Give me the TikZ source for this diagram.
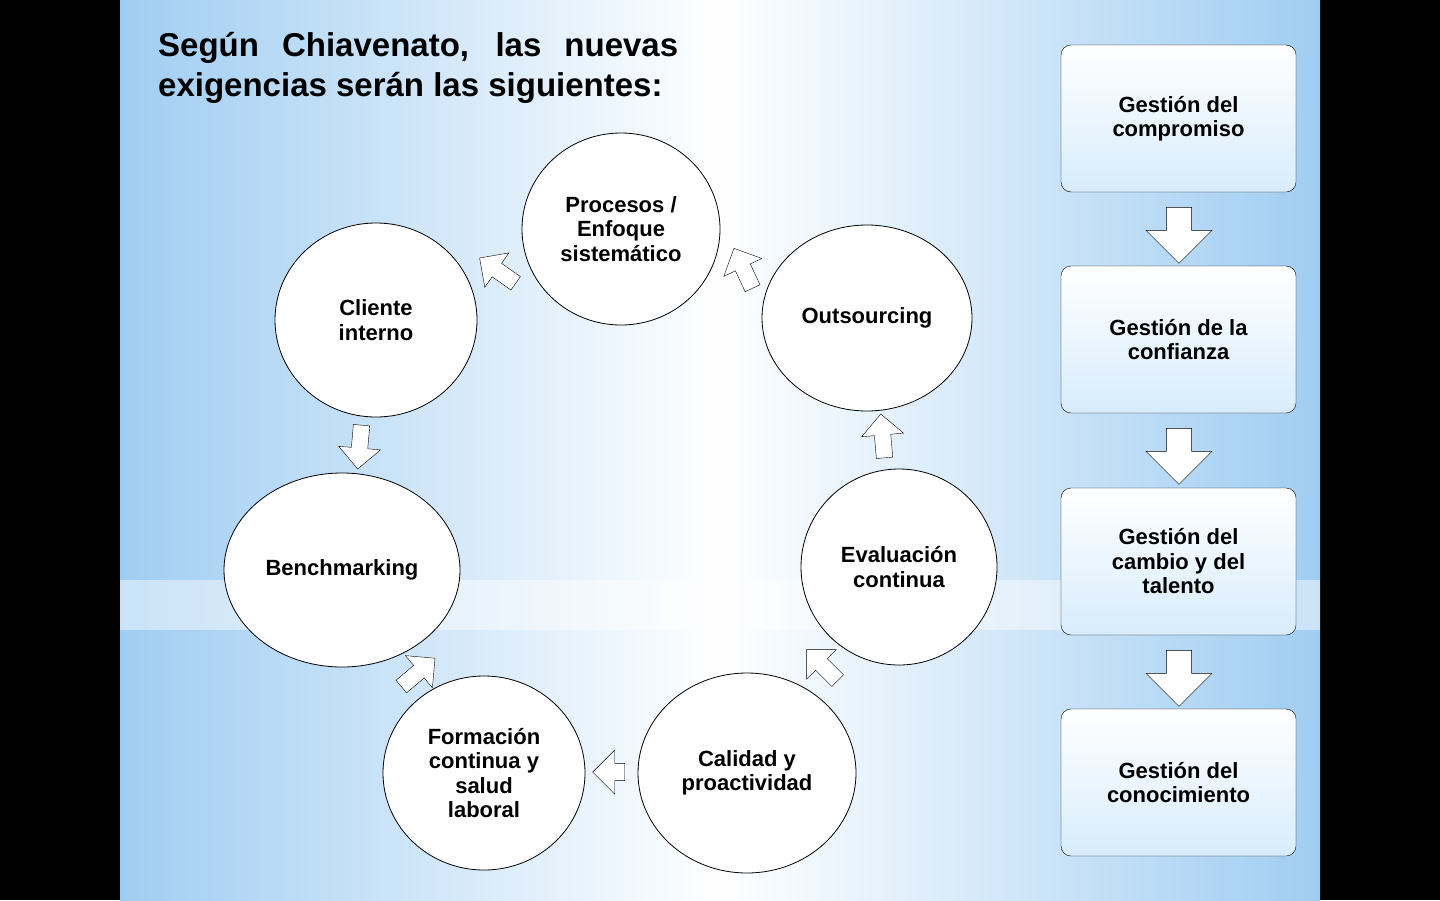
\documentclass[tikz,border=0pt]{standalone}
\usepackage{fontspec}
\setmainfont{Liberation Sans}
\usetikzlibrary{shapes.geometric,shapes.arrows}
\definecolor{bgblue}{RGB}{160,205,242}
\definecolor{boxblue}{RGB}{215,236,252}
\begin{document}
\begin{tikzpicture}[x=1pt,y=-1pt,
  circ/.style={ellipse,draw,thick,fill=white,align=center,font=\fontsize{22}{24.5}\selectfont\bfseries},
  barr/.style={single arrow,draw,fill=white,minimum height=44,minimum width=42,single arrow head extend=5,inner sep=3},
  dbarr/.style={single arrow,draw,fill=white,minimum height=56,minimum width=66,single arrow head extend=10,inner sep=6,shape border rotate=270},
  gbox/.style={draw,rounded corners=10,minimum width=235,minimum height=147,align=center,top color=white,bottom color=boxblue,font=\fontsize{22}{24.5}\selectfont\bfseries}]
\useasboundingbox (0,0) rectangle (1440,900);
\fill[black] (0,0) rectangle (1440,900);
\shade[left color=bgblue,right color=white] (120,0) rectangle (720,900);
\shade[left color=white,right color=bgblue] (720,0) rectangle (1320,900);
\fill[white,opacity=0.45] (120,580) rectangle (1320,630);
\node[anchor=north west,align=left,font=\fontsize{33}{40}\selectfont\bfseries,inner sep=0] (title) at (158,32) {\makebox[520pt][s]{Según Chiavenato, las nuevas}\\exigencias serán las siguientes:};
\node[circ,minimum width=198,minimum height=192] (p) at (621,229) {Procesos /\\Enfoque\\sistemático};
\node[circ,minimum width=202,minimum height=194] (c) at (376,320) {Cliente\\interno};
\node[circ,minimum width=210,minimum height=186] (o) at (867,318) {Outsourcing};
\node[circ,minimum width=236,minimum height=194] (b) at (342,570) {Benchmarking};
\node[circ,minimum width=196,minimum height=196] (e) at (899,567) {Evaluación\\continua};
\node[circ,minimum width=202,minimum height=194] (f) at (484,773) {Formación\\continua y\\salud\\laboral};
\node[circ,minimum width=218,minimum height=200] (q) at (747,773) {Calidad y\\proactividad};
\node[barr,rotate=145] (a1) at (501,273) {};
\node[barr,rotate=115] (a2) at (745,272) {};
\node[barr,rotate=-95] (a3) at (360,443) {};
\node[barr,rotate=40] (a4) at (415,675) {};
\node[barr,rotate=180,minimum width=44,minimum height=32] (a5) at (613,772) {};
\node[barr,rotate=135] (a6) at (825,668) {};
\node[barr,rotate=95] (a7) at (883,440) {};
\node[gbox] (g1) at (1178.5,118.5) {Gestión del\\compromiso};
\node[gbox] (g2) at (1178.5,339.5) {Gestión de la\\confianza};
\node[gbox] (g3) at (1178.5,561.5) {Gestión del\\cambio y del\\talento};
\node[gbox] (g4) at (1178.5,782.5) {Gestión del\\conocimiento};
\node[dbarr] (d1) at (1179,229) {};
\node[dbarr] (d2) at (1179,450) {};
\node[dbarr] (d3) at (1179,672) {};
\end{tikzpicture}
\end{document}
